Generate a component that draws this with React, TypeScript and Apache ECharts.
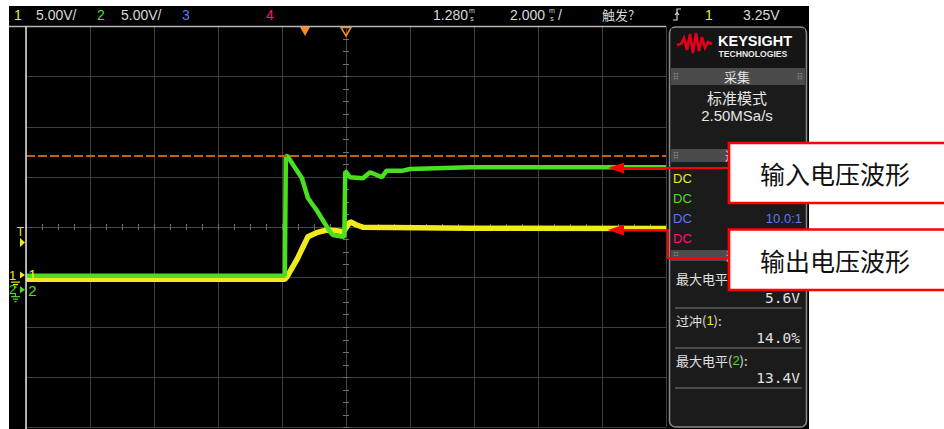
import React, { useEffect, useRef } from 'react';
import * as echarts from 'echarts';

// ---- scope settings (from the header / panel) ----
const DELAY_MS = 1.28; // time at screen centre
const MS_PER_DIV = 2;
const V_PER_DIV = 5;
const CH1_OFFSET_DIV = -0.96; // ch1 ground marker position (divisions from centre)
const CH2_OFFSET_DIV = -1.25; // ch2 ground marker position
const TRIG_LEVEL_V = 3.25;
const CH2_MAX_V = 13.4;

// ---- channel 1 (yellow, output) ----
const ch1TimeMs = [-8.72, -0.63, -0.57, -0.26, 0.09, 0.36, 0.68, 0.99, 1.2, 1.41, 1.61, 1.82, 5.16, 11.28];
const ch1Volts = [-0.42, -0.42, -0.19, 1.51, 3.83, 4.23, 4.5, 4.43, 4.33, 5.33, 5.0, 4.77, 4.67, 4.65];

// ---- channel 2 (green, input) ----
const ch2TimeMs = [-8.72, -0.63, -0.6, -0.55, -0.37, -0.1, 0.09, 0.36, 0.78, 0.87, 1.19, 1.23, 1.255, 1.28, 1.41, 1.81, 2.03, 2.24, 2.4, 2.55, 3.06, 3.28, 5.16, 11.28];
const ch2Volts = [1.39, 1.39, 13.26, 13.35, 12.43, 11.14, 9.14, 7.95, 5.78, 5.45, 5.28, 5.35, 11.77, 11.74, 11.21, 11.11, 11.71, 11.44, 11.21, 11.87, 11.87, 12.04, 12.21, 12.2];

// ---- texts ----
const headerScale = '5.00V/';
const delayText = '1.280';
const timebaseText = '2.000';
const trigText = '触发?';
const trigLevelText = '3.25V';
const acqMode = '标准模式';
const sampleRate = '2.50MSa/s';
const probeRatio = '10.0:1';
const measValues = ['5.6V', '14.0%', '13.4V'];
const calloutTexts = ['输入电压波形', '输出电压波形'];

const YELLOW = '#f0ea1a';
const GREEN = '#48e01f';
const BLUE = '#5a78ff';
const PINK = '#ff1470';
const ORANGE = '#ff8c1a';
const TXT = '#d9d9d9';
const SANS = 'Liberation Sans, Arial, sans-serif';
const CJK = 'Noto Sans CJK SC, sans-serif';
const MONO = 'DejaVu Sans Mono, monospace';

const toPts = (ts: number[], vs: number[], off: number) =>
  ts.map((t, i) => [(t - DELAY_MS) / MS_PER_DIV, vs[i] / V_PER_DIV + off]);

const txt = (text: string, x: number, y: number, fill: string, font: string, align = 'left') => ({
  type: 'text',
  z: 100,
  silent: true,
  style: { text, x, y, fill, font, textAlign: align, textVerticalAlign: 'middle' },
});
const rect = (x: number, y: number, w: number, h: number, style: any, z = 100, r = 0) => ({
  type: 'rect',
  z,
  silent: true,
  shape: { x, y, width: w, height: h, r },
  style,
});
const line = (x1: number, y1: number, x2: number, y2: number, stroke: string, lineWidth = 1, z = 100) => ({
  type: 'line',
  z,
  silent: true,
  shape: { x1, y1, x2, y2 },
  style: { stroke, lineWidth },
});
const poly = (points: number[][], style: any, z = 100) => ({ type: 'polygon', z, silent: true, shape: { points }, style });
const pline = (points: number[][], stroke: string, lineWidth = 2, z = 100) => ({
  type: 'polyline',
  z,
  silent: true,
  shape: { points },
  style: { stroke, lineWidth, fill: 'none' },
});

const axisCommon = (inside: boolean, split: boolean) => ({
  type: 'value',
  silent: true,
  interval: 1,
  splitLine: { show: split, lineStyle: { color: '#3e3e3e', width: 1 } },
  axisLine: { show: true, onZero: true, onZeroAxisIndex: 0, lineStyle: { color: '#464646', width: 1 } },
  axisTick: { show: true, inside, length: 3, lineStyle: { color: '#6e6e6e' } },
  minorTick: { show: true, splitNumber: 4, length: 3, lineStyle: { color: '#6e6e6e' } },
  minorSplitLine: { show: false },
  axisLabel: { show: false },
});

export default function App() {
  const ref = useRef<HTMLDivElement>(null);
  useEffect(() => {
    if (!ref.current) return;
    const chart = echarts.init(ref.current, undefined, { renderer: 'svg' });
    chart.setOption({
      animation: false,
      backgroundColor: '#000000',
      grid: { left: 26, top: 26.5, width: 640, height: 401 },
      xAxis: [
        { ...axisCommon(false, true), min: -5, max: 5, position: 'bottom' },
        { ...axisCommon(true, false), min: -5, max: 5, position: 'bottom' },
      ],
      yAxis: [
        { ...axisCommon(false, true), min: -4, max: 4, position: 'left' },
        { ...axisCommon(true, false), min: -4, max: 4, position: 'left' },
      ],
      series: [
        {
          type: 'line',
          name: 'ch1',
          silent: true,
          symbol: 'none',
          z: 3,
          data: toPts(ch1TimeMs, ch1Volts, CH1_OFFSET_DIV),
          lineStyle: { color: YELLOW, width: 5.5 },
        },
        {
          type: 'line',
          name: 'ch2',
          silent: true,
          symbol: 'none',
          z: 4,
          data: toPts(ch2TimeMs, ch2Volts, CH2_OFFSET_DIV),
          lineStyle: { color: GREEN, width: 4.5 },
          markLine: {
            silent: true,
            symbol: ['none', 'none'],
            label: { show: false },
            lineStyle: { color: '#c4620c', type: [9, 3], width: 2 },
            data: [{ yAxis: CH2_MAX_V / V_PER_DIV + CH2_OFFSET_DIV }],
          },
        },
      ],
    });

    const py = (v: number) => chart.convertToPixel({ yAxisIndex: 0 }, v) as number;
    const px = (v: number) => chart.convertToPixel({ xAxisIndex: 0 }, v) as number;
    const yTrig = py(TRIG_LEVEL_V / V_PER_DIV + CH1_OFFSET_DIV);
    const yG1 = py(CH1_OFFSET_DIV);
    const yG2 = py(CH2_OFFSET_DIV);
    const xTrig = px((0 - DELAY_MS) / MS_PER_DIV);
    const xCen = px(0);
    const hy = 14.5;

    const g: any[] = [
      // page white margins
      rect(0, 0, 944, 6, { fill: '#ffffff' }, 90),
      rect(0, 0, 9, 429, { fill: '#ffffff' }, 90),
      rect(809, 0, 135, 429, { fill: '#ffffff' }, 90),
      // plot frame
      line(9, 26.5, 666, 26.5, '#b8b8b8', 1.5, 95),
      line(26, 26.5, 26, 429, '#e0e0e0', 1.5, 95),
      // header
      txt('1', 14, hy, YELLOW, `14px ${SANS}`),
      txt(headerScale, 36, hy, TXT, `14px ${SANS}`),
      txt('2', 97, hy, GREEN, `14px ${SANS}`),
      txt(headerScale, 121, hy, TXT, `14px ${SANS}`),
      txt('3', 182, hy, BLUE, `14px ${SANS}`),
      txt('4', 266, hy, PINK, `14px ${SANS}`),
      txt(delayText, 433, hy, TXT, `14px ${SANS}`),
      txt('m', 472, 10.5, TXT, `7px ${SANS}`, 'center'),
      txt('s', 472, 18, TXT, `7px ${SANS}`, 'center'),
      txt(timebaseText, 510, hy, TXT, `14px ${SANS}`),
      txt('m', 552, 10.5, TXT, `7px ${SANS}`, 'center'),
      txt('s', 552, 18, TXT, `7px ${SANS}`, 'center'),
      txt('/', 558, hy, TXT, `14px ${SANS}`),
      txt(trigText, 602, hy, TXT, `13px ${CJK}`),
      pline([[673, 20], [677, 20], [677, 9], [681, 9]], TXT, 1.2),
      pline([[675, 15], [677, 12.5], [679, 15]], TXT, 1.2),
      txt('1', 705, hy, YELLOW, `14px ${SANS}`),
      txt(trigLevelText, 743, hy, TXT, `14px ${SANS}`),
      // top markers
      poly([[xTrig - 5, 27], [xTrig + 5, 27], [xTrig, 36]], { fill: ORANGE }),
      poly([[xCen - 5, 27.5], [xCen + 5, 27.5], [xCen, 36]], { fill: 'none', stroke: ORANGE, lineWidth: 1.5 }),
      // left markers
      txt('T', 20.5, yTrig - 11, YELLOW, `12px ${SANS}`, 'center'),
      poly([[20, yTrig - 4.5], [25, yTrig], [20, yTrig + 4.5]], { fill: YELLOW }),
      txt('1', 12.5, yG1, YELLOW, `13px ${SANS}`, 'center'),
      poly([[20, yG1 - 3.5], [25, yG1], [20, yG1 + 3.5]], { fill: YELLOW }),
      txt('1', 32.5, yG1 - 1, YELLOW, `15px ${SANS}`, 'center'),
      line(11, yG1 + 7, 20, yG1 + 7, YELLOW, 1.2),
      line(13, yG1 + 9.5, 18, yG1 + 9.5, YELLOW, 1.2),
      line(14.5, yG1 + 12, 16.5, yG1 + 12, YELLOW, 1.2),
      txt('2', 12.5, yG2, GREEN, `13px ${SANS}`, 'center'),
      poly([[20, yG2 - 3.5], [25, yG2], [20, yG2 + 3.5]], { fill: GREEN }),
      txt('2', 32.5, yG2 + 0.5, GREEN, `15px ${SANS}`, 'center'),
      line(15.5, yG2 + 4, 15.5, yG2 + 7, GREEN, 1.2),
      line(11, yG2 + 7, 20, yG2 + 7, GREEN, 1.2),
      line(13, yG2 + 9.5, 18, yG2 + 9.5, GREEN, 1.2),
      line(14.5, yG2 + 12, 16.5, yG2 + 12, GREEN, 1.2),

      // right panel
      rect(669.5, 27, 137, 400, { fill: '#1b1b1b', stroke: '#8a8a8a', lineWidth: 1.5 }, 100, 6),
      rect(671, 28.5, 134, 39.5, { fill: '#151515' }, 100),
      pline([[677, 45], [681, 44], [684, 38], [687, 50], [690, 34], [693, 53], [696, 33], [699, 51], [702, 37], [705, 48], [708, 42], [712, 44]], '#e4001b', 2.6, 101),
      txt('KEYSIGHT', 718, 40.5, '#ffffff', `bold 14.5px ${SANS}`),
      txt('TECHNOLOGIES', 718.5, 54, '#e8e8e8', `bold 8.6px ${SANS}`),
      rect(671, 68, 134, 17, { fill: '#4b4b4b' }, 100),
      txt('⠿', 676, 76.5, '#8e8e8e', `9px DejaVu Sans`, 'center'),
      txt('⠿', 800, 76.5, '#8e8e8e', `9px DejaVu Sans`, 'center'),
      txt('采集', 737, 76.5, '#e6e6e6', `13px ${CJK}`, 'center'),
      txt(acqMode, 737, 97, '#e6e6e6', `15px ${CJK}`, 'center'),
      txt(sampleRate, 737, 115, '#e6e6e6', `15px ${SANS}`, 'center'),
      rect(671, 149, 134, 13, { fill: '#4b4b4b' }, 100),
      txt('⠿', 676, 155.5, '#8e8e8e', `9px DejaVu Sans`, 'center'),
      txt('通道', 737, 155.5, '#e6e6e6', `12px ${CJK}`, 'center'),
      txt('DC', 673, 178, YELLOW, `13px ${SANS}`),
      txt('DC', 673, 198, GREEN, `13px ${SANS}`),
      txt('DC', 673, 218, BLUE, `13px ${SANS}`),
      txt(probeRatio, 802, 218, BLUE, `13px ${SANS}`, 'right'),
      txt('DC', 673, 238, PINK, `13px ${SANS}`),
      rect(671, 250, 134, 11, { fill: '#4b4b4b' }, 100),
      txt('⠿', 676, 255.5, '#8e8e8e', `9px DejaVu Sans`, 'center'),
      txt('测量', 737, 255.5, '#e6e6e6', `11px ${CJK}`, 'center'),
      {
        type: 'text', z: 100, silent: true,
        style: {
          text: '{w|最大电平(}{y|1}{w|):}', x: 676, y: 278, textVerticalAlign: 'middle',
          rich: { w: { fill: '#e0e0e0', fontSize: 13, fontFamily: CJK }, y: { fill: YELLOW, fontSize: 13, fontFamily: SANS } },
        },
      },
      txt(measValues[0], 800, 298, '#e0e0e0', `14.5px ${MONO}`, 'right'),
      line(675, 308, 802, 308, '#7e7e7e', 1.2),
      {
        type: 'text', z: 100, silent: true,
        style: {
          text: '{w|过冲(}{y|1}{w|):}', x: 676, y: 320, textVerticalAlign: 'middle',
          rich: { w: { fill: '#e0e0e0', fontSize: 13, fontFamily: CJK }, y: { fill: YELLOW, fontSize: 13, fontFamily: SANS } },
        },
      },
      txt(measValues[1], 800, 338, '#e0e0e0', `14.5px ${MONO}`, 'right'),
      line(675, 348, 802, 348, '#7e7e7e', 1.2),
      {
        type: 'text', z: 100, silent: true,
        style: {
          text: '{w|最大电平(}{g|2}{w|):}', x: 676, y: 360, textVerticalAlign: 'middle',
          rich: { w: { fill: '#e0e0e0', fontSize: 13, fontFamily: CJK }, g: { fill: GREEN, fontSize: 13, fontFamily: SANS } },
        },
      },
      txt(measValues[2], 800, 378, '#e0e0e0', `14.5px ${MONO}`, 'right'),
      line(675, 388, 802, 388, '#7e7e7e', 1.2),

      // callouts
      line(622, 168, 729, 168, '#ff0000', 2, 110),
      poly([[608, 168], [624, 162.5], [624, 173.5]], { fill: '#ff0000' }, 110),
      pline([[622, 230], [668, 230], [668, 258], [729, 258]], '#ff0000', 2, 110),
      poly([[608, 230], [624, 224.5], [624, 235.5]], { fill: '#ff0000' }, 110),
      rect(729, 143, 230, 60, { fill: '#ffffff', stroke: '#ff0000', lineWidth: 2.7 }, 111),
      txt(calloutTexts[0], 760, 173, '#111111', `25px ${CJK}`),
      rect(729, 229.5, 230, 60.5, { fill: '#ffffff', stroke: '#ff0000', lineWidth: 2.7 }, 111),
      txt(calloutTexts[1], 760, 260, '#111111', `25px ${CJK}`),
    ];
    // make callout texts above boxes
    g[g.length - 3].z = 112;
    g[g.length - 1].z = 112;
    chart.setOption({ graphic: { elements: g } });
    return () => chart.dispose();
  }, []);
  return <div ref={ref} style={{ position: 'fixed', left: 0, top: 0, width: 944, height: 429 }} />;
}
